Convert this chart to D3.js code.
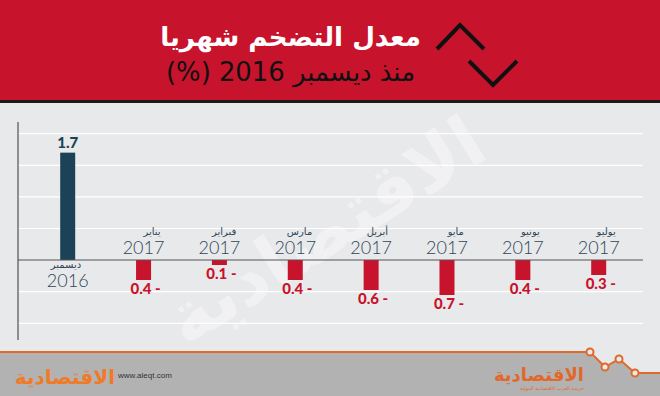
<!DOCTYPE html>
<html>
<head>
<meta charset="utf-8">
<script src="https://cdn.jsdelivr.net/npm/d3@7"></script>
<style>
  body { margin: 0; background: #e8e9eb; }
  svg { display: block; }
</style>
</head>
<body>
<svg id="chart" width="660" height="396"></svg>
<script>
// chart data
var months = ['ديسمبر', 'يناير', 'فبراير', 'مارس', 'أبريل', 'مايو', 'يونيو', 'يوليو'];
var years = ['2016', '2017', '2017', '2017', '2017', '2017', '2017', '2017'];
var values = [1.7, -0.4, -0.1, -0.4, -0.6, -0.7, -0.4, -0.3];
var gridValues = [-1, -0.5, 0, 0.5, 1, 1.5, 2];

var title = 'معدل التضخم شهريا';
var subtitle = 'منذ ديسمبر 2016 (%)';

var RED = '#c8132c', NAVY = '#1c4257', TXT = '#2f4656';
var AR = '"DejaVu Sans", sans-serif';

var svg = d3.select('#chart');

// background
svg.append('rect').attr('width', 660).attr('height', 396).attr('fill', '#e8e9eb');

// header
svg.append('rect').attr('width', 660).attr('height', 101).attr('fill', RED);
svg.append('rect').attr('y', 100).attr('width', 660).attr('height', 3).attr('fill', '#1a1a1a');

var t1 = svg.append('text')
  .attr('x', 421).attr('y', 46)
  .attr('direction', 'rtl')
  .attr('text-anchor', 'start')
  .attr('fill', '#fff')
  .style('font-family', AR).style('font-weight', 'bold').style('font-size', '28px')
  .text(title);
var t2 = svg.append('text')
  .attr('x', 415).attr('y', 81)
  .attr('direction', 'rtl')
  .attr('text-anchor', 'start')
  .attr('fill', '#111')
  .style('font-family', AR).style('font-size', '24px')
  .text(subtitle);

// fit the header texts to the width seen in the picture
function fit(sel, w) {
  var len = sel.node().getComputedTextLength();
  var fs = parseFloat(sel.style('font-size'));
  sel.style('font-size', (fs * w / len) + 'px');
}
fit(t1, 261);
fit(t2, 249);

// chevrons
var line = d3.line();
svg.append('path')
  .attr('d', line([[437, 49], [460, 25], [484, 49]]))
  .attr('fill', 'none').attr('stroke', '#111').attr('stroke-width', 4);
svg.append('path')
  .attr('d', line([[469, 61], [493, 85], [517, 61]]))
  .attr('fill', 'none').attr('stroke', '#111').attr('stroke-width', 4);

// scales
var x = d3.scalePoint().domain(d3.range(values.length)).range([67.7, 598.7]);
var gy = d3.scaleLinear().domain([-1, 2]).range([323.3, 133.7]);
var y = d3.scaleLinear().domain([-1, 0, 2]).range([310, 260, 133.7]);
var barW = 15;

// watermark
svg.append('text')
  .attr('transform', 'translate(338,252) rotate(-32)')
  .attr('text-anchor', 'middle')
  .attr('fill', '#fff').attr('opacity', 0.4)
  .style('font-family', AR).style('font-weight', 'bold').style('font-size', '72px')
  .text('الاقتصادية');

// grid
svg.selectAll('.grid')
  .data(gridValues.filter(function(d) { return d !== 0; }))
  .enter().append('line')
  .attr('x1', 18).attr('x2', 643)
  .attr('y1', function(d) { return gy(d); })
  .attr('y2', function(d) { return gy(d); })
  .attr('stroke', '#fff').attr('stroke-width', 1.2);

// bars
svg.selectAll('.bar')
  .data(values)
  .enter().append('rect')
  .attr('x', function(d, i) { return x(i) - barW / 2; })
  .attr('y', function(d) { return d > 0 ? y(d) : y(0); })
  .attr('width', barW)
  .attr('height', function(d) { return Math.abs(y(d) - y(0)); })
  .attr('fill', function(d) { return d > 0 ? NAVY : RED; });

// zero line + y axis
svg.append('line')
  .attr('x1', 18).attr('x2', 643)
  .attr('y1', y(0)).attr('y2', y(0))
  .attr('stroke', '#555').attr('stroke-width', 1.2);
svg.append('line')
  .attr('x1', 18).attr('x2', 18)
  .attr('y1', 122).attr('y2', 340)
  .attr('stroke', '#333').attr('stroke-width', 1);

// value labels
svg.selectAll('.val')
  .data(values)
  .enter().append('text')
  .attr('x', function(d, i) { return x(i) + (d > 0 ? 0 : 2); })
  .attr('y', function(d) { return d > 0 ? y(d) - 5 : y(d) + 14; })
  .attr('text-anchor', 'middle')
  .attr('fill', function(d) { return d > 0 ? NAVY : RED; })
  .style('font-family', 'Lato, sans-serif').style('font-weight', 900).style('font-size', '15px')
  .text(function(d) { return d > 0 ? d.toFixed(1) : Math.abs(d).toFixed(1) + ' -'; });

// month / year labels
var lab = svg.selectAll('.lab')
  .data(values)
  .enter().append('g')
  .attr('transform', function(d, i) {
    return 'translate(' + x(i) + ',' + (d > 0 ? 287 : 254) + ')';
  });
lab.append('text')
  .attr('text-anchor', 'middle')
  .attr('fill', TXT)
  .style('font-family', 'Lato, sans-serif').style('font-weight', 300).style('font-size', '18px')
  .text(function(d, i) { return years[i]; });
lab.append('text')
  .attr('x', function(d) { return d > 0 ? -17 : 17; })
  .attr('y', -19)
  .attr('text-anchor', function(d) { return d > 0 ? 'start' : 'end'; })
  .attr('fill', TXT)
  .style('font-family', AR).style('font-size', '10px')
  .text(function(d, i) { return months[i]; });

// footer
var foot = [[0, 352], [590, 352], [605, 367], [619, 359], [635, 373], [660, 373]];
svg.append('path')
  .attr('d', line(foot.concat([[660, 396], [0, 396]])))
  .attr('fill', '#b2b2b2');
svg.append('path')
  .attr('d', line(foot))
  .attr('fill', 'none').attr('stroke', '#e06a2c').attr('stroke-width', 2);
svg.selectAll('.dot')
  .data(foot.slice(1, 5))
  .enter().append('circle')
  .attr('cx', function(d) { return d[0]; })
  .attr('cy', function(d) { return d[1]; })
  .attr('r', 3.5)
  .attr('fill', '#e8e9eb').attr('stroke', '#e06a2c').attr('stroke-width', 2);

svg.append('text')
  .attr('x', 115).attr('y', 384)
  .attr('text-anchor', 'end')
  .attr('fill', '#f07a28')
  .style('font-family', AR).style('font-weight', 'bold').style('font-size', '20px')
  .text('الاقتصادية');
svg.append('text')
  .attr('x', 118).attr('y', 378)
  .attr('fill', '#333')
  .style('font-family', 'Arial, sans-serif').style('font-size', '8px')
  .text('www.aleqt.com');
svg.append('text')
  .attr('x', 584).attr('y', 381)
  .attr('text-anchor', 'end')
  .attr('fill', '#e2682a')
  .style('font-family', AR).style('font-weight', 'bold').style('font-size', '18px')
  .text('الاقتصادية');
svg.append('text')
  .attr('x', 584).attr('y', 390)
  .attr('text-anchor', 'end')
  .attr('fill', '#e2682a')
  .style('font-family', AR).style('font-size', '5px')
  .text('جريدة العرب الاقتصادية الدولية');
</script>
</body>
</html>
